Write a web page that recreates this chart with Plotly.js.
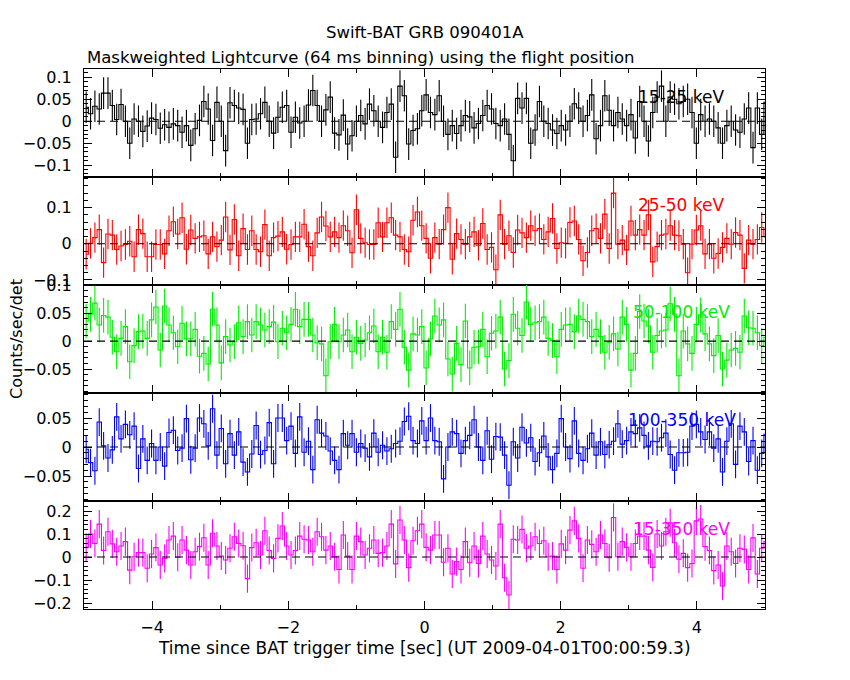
<!DOCTYPE html>
<html>
<head>
<meta charset="utf-8">
<script src="https://cdn.plot.ly/plotly-3.0.1.min.js"></script>
<style>html,body{margin:0;padding:0;background:#fff;}#chart{width:850px;height:680px;}</style>
</head>
<body>
<div id="chart"></div>
<script>
// ---- data (counts/sec/det per 64 ms bin) ----
const binStart = -5.0;
const binSize = 0.064;

const rate15_25 = [
0.032,0.017,0.034,0.028,0.064,0.064,0.036,0.004,0.038,0,
-0.05,0.005,0,-0.023,-0.011,0.007,0.004,-0.016,-0.008,-0.014,
-0.006,-0.01,-0.025,-0.01,-0.055,-0.017,0.002,0.045,0.028,-0.044,
0.043,0,-0.067,0.042,0.036,0.03,0.027,-0.05,0.004,0.005,
0.017,0.043,0,-0.027,0.009,0.032,0.036,-0.025,0.009,-0.004,
0,0.037,0.07,0.036,0,0.026,0.055,-0.027,-0.031,0.014,
-0.052,-0.033,0,0.013,-0.006,0.039,0.024,0,-0.014,0.02,
0.039,-0.082,0.08,0.058,-0.052,-0.021,-0.017,0.024,0.06,
0.02,0.015,0.058,0,-0.03,-0.01,-0.028,-0.01,0.013,0.01,
-0.015,-0.005,0.013,0.036,0.028,-0.005,-0.01,0.005,-0.03,-0.09,
0.052,0.03,0.052,-0.05,-0.02,0.045,0,-0.005,-0.02,-0.028,
-0.01,-0.02,0,0.04,0.03,0,0.013,0.06,-0.04,-0.01,
0.058,0.025,-0.01,0.02,0.005,-0.01,0.015,-0.038,0.045,0,
-0.045,0.02,0.055,0.08,0,0.055,0.05,0.04,0.045,0.05,
0.02,-0.05,0.015,0,0.005,0,-0.015,-0.05,-0.01,0,
-0.02,-0.025,0.005,0.03,-0.06,0.03,-0.03,0.043
];
const rate25_50 = [
-0.029,0.001,0.017,0.039,-0.052,0.027,0.024,-0.016,-0.006,-0.002,
0.007,-0.036,0.039,0.028,-0.036,-0.036,-0.002,-0.002,-0.028,0.036,
0.061,0.027,0.072,-0.015,0.038,0.015,0.019,0.022,-0.028,0.019,
-0.008,0.010,0.074,-0.017,0.067,-0.033,0.042,-0.016,0.036,-0.016,
-0.022,0.053,-0.033,0.017,0.021,0.033,-0.015,-0.002,0.019,0.019,
0.054,-0.008,-0.033,0.030,0.074,0.049,0.019,0.033,0.017,0.050,
0.036,-0.025,0.094,0.015,0.003,-0.002,-0.002,0.058,0.019,0.058,
0.072,0.024,0.019,-0.016,-0.022,0.065,0.088,0.050,
0.015,-0.040,0.017,-0.001,0.039,0.100,-0.043,0.028,0.012,-0.001,
0.019,0.033,-0.004,0.056,-0.016,-0.010,-0.072,0.080,-0.001,0.022,
-0.024,0.038,0.030,0.017,0.050,0.036,0.042,0.012,0.033,0.070,
-0.013,0.003,0.001,0.059,0.063,0.012,-0.047,-0.024,0.036,0.042,
0.015,0.082,-0.013,0.140,-0.001,0.010,-0.017,0.063,0.024,0.039,
0.024,0.080,-0.050,-0.008,0.024,0.027,0.050,0.024,0.022,-0.001,
-0.080,-0.001,0.038,0.050,-0.028,-0.001,-0.040,-0.027,-0.010,0.015,
-0.001,0.031,0.024,-0.068,0.010,-0.001,0.012,0.045,0.019
];
const rate50_100 = [
0.036,0.048,0.068,0.029,0.046,0.043,0.007,-0.019,0.005,0.026,
-0.037,-0.008,0.017,0.018,0.005,0.038,0.061,-0.016,0.063,0.029,
0.015,-0.010,0.032,0.004,0.004,0.021,-0.027,-0.022,-0.041,0.057,
0.029,-0.039,0.008,-0.007,-0.001,0.033,0.008,0.035,0.011,0.035,
0.029,0.020,0.026,0.034,-0.001,0.023,0.015,0.030,0.057,0.026,
0.039,0.039,0.011,-0.003,-0.005,-0.062,-0.001,0.030,-0.001,0.011,
0.020,-0.019,0.007,-0.004,0.002,0.015,0.027,-0.019,0.007,-0.020,
0.035,0.021,0.057,-0.011,-0.052,0.013,0.011,0.026,-0.048,
0.004,0.045,0.029,0.038,-0.032,-0.059,-0.004,-0.042,0.036,-0.048,
-0.011,-0.010,0.021,-0.028,0.014,0.018,0.043,-0.050,-0.035,0.048,
0.023,0.010,0.070,0.030,0.033,0.035,0.043,0.005,0.001,-0.028,
0.021,0.029,0.030,0.017,0.045,0.039,0.035,0.008,0.021,0.008,
-0.020,-0.002,0.013,-0.014,0.043,0.030,-0.052,-0.022,0.053,0.036,
0.027,-0.020,0.010,0.018,0.020,0.067,0.048,-0.062,0.018,-0.005,
-0.022,0.030,0.047,0.013,-0.005,-0.026,0.010,-0.050,-0.034,-0.016,
-0.013,-0.020,0.045,0.024,0.023,0.015,-0.008,0.007
];
const rate100_350 = [
-0.004,-0.027,-0.041,0.043,0.002,-0.019,-0.005,0.052,0.014,0.039,
0.021,0.036,-0.037,0.014,-0.023,0.006,-0.023,0.000,-0.033,0.025,
0.029,-0.006,-0.002,0.049,-0.022,-0.002,0.050,0.040,0.002,0.066,
-0.014,0.032,-0.029,0.023,-0.014,0.026,-0.026,-0.043,-0.012,0.037,
-0.013,-0.006,0.042,-0.029,0.050,0.050,0.011,0.036,-0.011,0.052,
-0.009,0.010,-0.039,0.047,0.024,0.019,-0.007,-0.023,-0.039,0.023,
0.003,0.023,-0.009,0.006,-0.002,-0.017,0.024,-0.009,0.003,-0.007,
-0.003,0.006,0.010,0.044,0.053,0.011,0.006,0.045,0.011,
0.050,0.011,0.009,-0.055,0.000,0.026,0.023,-0.011,0.011,0.020,
0.047,0.000,-0.023,0.028,-0.021,0.018,0.017,-0.014,-0.066,0.009,
-0.019,0.034,0.007,0.016,-0.025,-0.010,0.019,-0.017,-0.039,-0.011,
0.049,0.000,-0.020,0.045,-0.011,-0.023,-0.003,0.024,-0.014,0.009,
-0.013,0.004,0.010,0.040,0.005,0.011,0.026,0.023,0.033,0.020,
0.002,0.010,0.009,0.016,0.024,-0.013,-0.040,-0.010,-0.010,-0.009,
0.036,0.039,0.026,0.013,0.026,-0.002,0.014,-0.043,0.010,0.040,
-0.030,0.036,0.026,-0.025,0.011,-0.040,-0.011,0.022
];
const rate15_350 = [
0.042,0.100,0.059,0.143,0.028,0.110,0.057,0.023,0.048,0.067,
-0.057,0.001,0.019,0.019,-0.049,0.013,0.041,-0.035,-0.006,0.074,
0.091,-0.001,0.074,0.030,-0.035,0.023,0.045,0.084,-0.035,0.103,
0.048,0.004,-0.013,0.038,0.088,0.059,0.049,-0.094,0.041,0.062,
0.009,0.114,0.028,-0.006,0.081,0.135,0.048,0.009,0.028,0.091,
0.077,0.074,0.023,0.110,0.088,0.030,0.048,0.001,-0.054,0.096,
0.004,-0.054,0.091,0.067,0.009,0.038,0.074,0.016,0.019,0.048,
0.143,-0.030,0.161,0.074,-0.046,0.071,0.114,0.143,0.042,
0.030,0.096,0.096,-0.023,0.038,-0.074,-0.020,-0.054,0.067,-0.025,
0.048,-0.028,0.091,0.013,-0.013,-0.039,0.143,-0.090,-0.165,0.077,
0.074,0.120,0.038,0.048,0.088,0.059,0.071,0.001,0.004,-0.054,
0.057,0.030,0.117,0.157,0.081,-0.049,0.074,0.055,0.023,0.096,
0.059,-0.003,0.172,0.001,0.067,0.042,0.001,0.059,0.091,0.091,
0.030,-0.045,0.100,0.048,0.110,0.149,0.062,-0.010,0.016,-0.046,
-0.028,0.157,0.165,0.045,0.028,-0.059,-0.035,-0.126,0.048,0.023,
-0.028,0.038,0.033,-0.054,0.083,-0.074,0.038,0.067
];

// typical 1-sigma errors per band
const err15_25 = 0.036;
const err25_50 = 0.042;
const err50_100 = 0.031;
const err100_350 = 0.024;
const err15_350 = 0.061;

const bandLabels = ["15-25 keV","25-50 keV","50-100 keV","100-350 keV","15-350 keV"];
const titleLine1 = "Swift-BAT GRB 090401A";
const titleLine2 = "Maskweighted Lightcurve (64 ms binning) using the flight position";
const xLabel = "Time since BAT trigger time [sec] (UT 2009-04-01T00:00:59.3)";
const yLabel = "Counts/sec/det";

// ---- build ----
const series = [rate15_25, rate25_50, rate50_100, rate100_350, rate15_350];
const errs = [err15_25, err25_50, err50_100, err100_350, err15_350];
const colors = ["#000000","#ff0000","#00ee00","#0000ff","#ff00ff"];
const yRanges = [[-0.127,0.119],[-0.114,0.1846],[-0.0929,0.1005],[-0.0931,0.0931],[-0.226,0.2435]];
const yDticks = [0.05,0.1,0.05,0.05,0.1];
const yMinor = [0.01,0.02,0.01,0.01,0.02];
const labelPos = [[3.78,0.055],[3.78,0.108],[3.78,0.052],[3.78,0.047],[3.78,0.123]];

const FONT = "DejaVu Sans, Liberation Sans, sans-serif";
const traces = [];
const layout = {
  width:850, height:680,
  margin:{l:84, r:85, t:69, b:71},
  paper_bgcolor:"#fff", plot_bgcolor:"#fff",
  showlegend:false,
  font:{family:FONT, size:15, color:"#000"},
  shapes:[], annotations:[]
};

for (let p = 0; p < 5; p++) {
  const vals = series[p];
  const t = vals.map((_, i) => binStart + binSize * (i + 0.5));
  const e = vals.map(() => errs[p]);
  const xa = "x" + (p + 1), ya = "y" + (p + 1);
  traces.push({
    type:"scatter", mode:"lines", x:t, y:vals,
    xaxis:xa, yaxis:ya,
    line:{color:colors[p], width:1.1, shape:"hvh"},
    error_y:{type:"data", array:e, visible:true, width:0, thickness:1.1, color:colors[p]},
    hoverinfo:"skip"
  });
  const top = 1 - 0.2 * p, bot = 1 - 0.2 * (p + 1);
  const axKeyX = "xaxis" + (p + 1), axKeyY = "yaxis" + (p + 1);
  layout[axKeyX] = {
    domain:[0,1], anchor:ya, range:[-5,5],
    showline:true, linecolor:"#000", linewidth:1, mirror:"ticks",
    ticks:"inside", ticklen:8, tickwidth:1, tickcolor:"#000",
    dtick:2, tick0:0,
    minor:{ticks:"inside", ticklen:4, dtick:1, tick0:0, tickcolor:"#000", tickwidth:1},
    showgrid:false, zeroline:false,
    showticklabels:(p === 4), ticklabelstandoff:4,
    tickfont:{family:FONT, size:16, color:"#000"}
  };
  if (p < 4) layout[axKeyX].matches = "x5";
  layout[axKeyY] = {
    domain:[bot, top], anchor:xa, range:yRanges[p],
    showline:true, linecolor:"#000", linewidth:1, mirror:"ticks",
    ticks:"inside", ticklen:8, tickwidth:1, tickcolor:"#000",
    dtick:yDticks[p], tick0:0,
    minor:{ticks:"inside", ticklen:4, dtick:yMinor[p], tick0:0, tickcolor:"#000", tickwidth:1},
    showgrid:false, zeroline:false, ticklabelstandoff:8,
    tickfont:{family:FONT, size:16, color:"#000"}
  };
  layout.shapes.push({type:"line", xref:xa, yref:ya, x0:-5, x1:5, y0:0, y1:0,
    line:{color:"#000", width:1.1, dash:"8px,5px"}});
  layout.annotations.push({xref:xa, yref:ya, x:labelPos[p][0], y:labelPos[p][1],
    text:bandLabels[p], showarrow:false, xanchor:"center", yanchor:"middle",
    font:{family:FONT, size:17, color:colors[p]}});
}

layout.annotations.push({xref:"paper", yref:"paper", x:0.5, y:1.068, text:titleLine1,
  showarrow:false, xanchor:"center", yanchor:"middle", font:{family:FONT, size:16.5, color:"#000"}});
layout.annotations.push({xref:"paper", yref:"paper", x:0.002, y:1.022, text:titleLine2,
  showarrow:false, xanchor:"left", yanchor:"middle", font:{family:FONT, size:16.5, color:"#000"}});
layout.annotations.push({xref:"paper", yref:"paper", x:0.5, y:-0.072, text:xLabel,
  showarrow:false, xanchor:"center", yanchor:"middle", font:{family:FONT, size:17, color:"#000"}});
layout.annotations.push({xref:"paper", yref:"paper", x:-0.1, y:0.5, text:yLabel, textangle:-90,
  showarrow:false, xanchor:"center", yanchor:"middle", font:{family:FONT, size:16, color:"#000"}});

Plotly.newPlot("chart", traces, layout, {staticPlot:true, displayModeBar:false});
</script>
</body>
</html>
